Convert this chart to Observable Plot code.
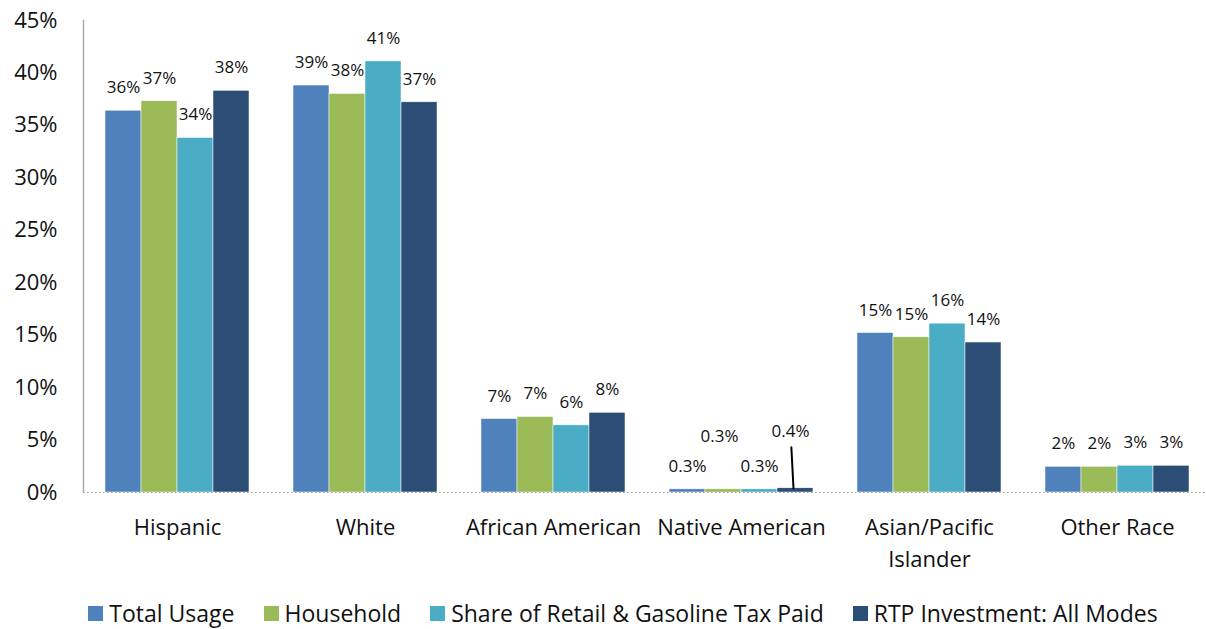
<!DOCTYPE html>
<html><head><meta charset="utf-8">
<script src="https://cdn.jsdelivr.net/npm/d3@7"></script>
<script src="https://cdn.jsdelivr.net/npm/@observablehq/plot@0.6"></script>
<style>
body{margin:0;background:#fff;font-family:"Open Sans",sans-serif;}
#legend{display:flex;justify-content:center;align-items:center;gap:29px;padding-left:40px;font-size:23px;color:#111;height:56px;}
#legend .it{display:flex;align-items:center;}
#legend .sw{width:15px;height:15px;margin-right:6px;display:inline-block;}
</style></head><body><div id="chart"></div><div id="legend"></div>
<script>
const groups = ["Hispanic","White","African American","Native American","Asian/Pacific Islander","Other Race"];
const groupLabels = ["Hispanic","White","African American","Native American","Asian/Pacific\nIslander","Other Race"];
const series = ["Total Usage","Household","Share of Retail & Gasoline Tax Paid","RTP Investment: All Modes"];
const colors = ["#4F81BD","#9BBB59","#4BACC6","#2C4D75"];
const totalUsage    = [36.4, 38.8, 7.0, 0.3, 15.2, 2.45];
const household     = [37.3, 38.0, 7.2, 0.3, 14.8, 2.45];
const taxShare      = [33.8, 41.1, 6.4, 0.3, 16.1, 2.55];
const rtpInvestment = [38.3, 37.2, 7.6, 0.4, 14.3, 2.55];
const yTicks = [0,5,10,15,20,25,30,35,40,45];

const seriesValues = [totalUsage, household, taxShare, rtpInvestment];
const data = groups.flatMap((g,i)=>series.map((s,j)=>({group:g, series:s, value:seriesValues[j][i]})));
const fmt = v => v < 1 ? v.toFixed(1) + "%" : Math.round(v) + "%";
const isNA = d => d.group === "Native American";
const normal = data.filter(d => !isNA(d) || d.series === series[0] || d.series === series[2]);
const naHouse = data.filter(d => isNA(d) && d.series === series[1]);
const naRtp = data.filter(d => isNA(d) && d.series === series[3]);

const leader = {draw(ctx, l){ ctx.moveTo(0,0); ctx.lineTo(0,-l); }};

const chart = Plot.plot({
  width: 1206, height: 585,
  marginLeft: 81, marginRight: 0, marginTop: 20, marginBottom: 93,
  style: {fontFamily: "Open Sans", background: "white", color: "#111"},
  fx: {domain: groups, range: [81, 1212], padding: 0, label: null},
  x: {domain: series, paddingInner: 0, paddingOuter: 0.58, axis: null},
  y: {domain: [0,45], axis: null},
  color: {domain: series, range: colors},
  marks: [
    Plot.axisY({ticks: yTicks, tickSize: 0, tickPadding: 26, tickFormat: d => d + "%", fontSize: 22, label: null}),
    Plot.axisFx({anchor: "bottom", tickSize: 0, tickPadding: 20, fontSize: 22, lineHeight: 1.45, tickFormat: g => groupLabels[groups.indexOf(g)], label: null}),
    Plot.barY(data, {fx: "group", x: "series", y: "value", fill: "series", stroke: "white", strokeWidth: 0.5}),
    Plot.ruleY([0], {stroke: "#999", strokeDasharray: "1.5,2.5", strokeWidth: 1.2}),
    Plot.frame({anchor: "left", facet: "super", stroke: "#aaa", strokeWidth: 1.5}),
    Plot.text(normal, {fx: "group", x: "series", y: "value", text: d => fmt(d.value), dy: -23, fontSize: 17, fill: "#111"}),
    Plot.text(naHouse, {fx: "group", x: "series", y: "value", text: d => fmt(d.value), dy: -53, dx: -4, fontSize: 17, fill: "#111"}),
    Plot.text(naRtp, {fx: "group", x: "series", y: "value", text: d => fmt(d.value), dy: -57, dx: -5, fontSize: 17, fill: "#111"}),
    Plot.vector(naRtp, {fx: "group", x: "series", y: "value", length: 41, rotate: -3, anchor: "start", shape: leader, stroke: "#000", strokeWidth: 2, dx: -2})
  ]
});
document.getElementById("chart").appendChild(chart);

const legend = document.getElementById("legend");
series.forEach((s,j)=>{
  const it = document.createElement("span"); it.className = "it";
  const sw = document.createElement("span"); sw.className = "sw"; sw.style.background = colors[j];
  it.appendChild(sw); it.appendChild(document.createTextNode(s));
  legend.appendChild(it);
});
</script></body></html>
